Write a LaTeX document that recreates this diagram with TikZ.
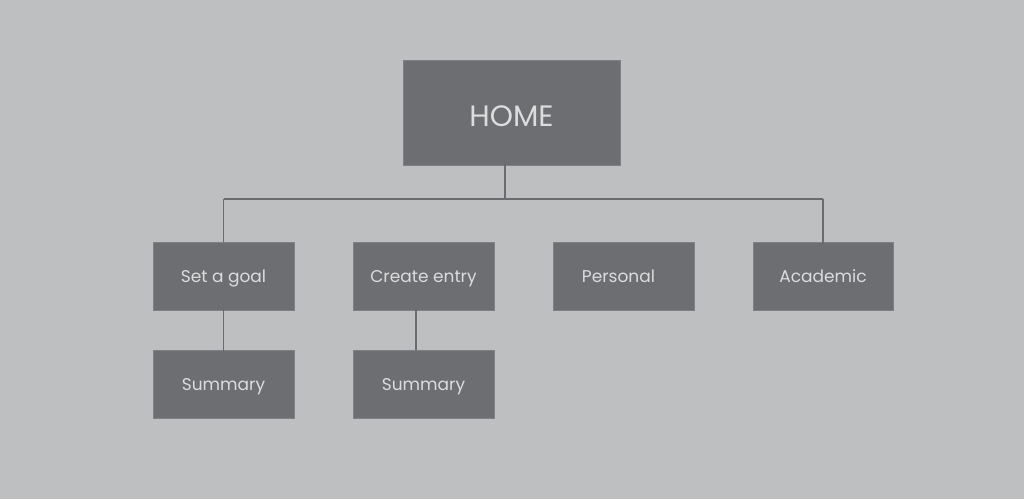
\documentclass[tikz,border=0pt]{standalone}
\usepackage{fontspec}
\setmainfont{Poppins}
\usetikzlibrary{calc}
\definecolor{bg}{HTML}{BEBFC1}
\definecolor{boxfill}{HTML}{6D6E72}
\definecolor{boxline}{HTML}{7F8084}
\definecolor{boxtext}{HTML}{DCDCDD}
\definecolor{conn}{HTML}{6A6B6F}
\newcommand{\boxlabel}[2][3pt]{\raisebox{-#1}{#2}}
\begin{document}
\begin{tikzpicture}[x=1pt,y=-1pt,
  pagebox/.style={fill=boxfill,draw=boxline,line width=1pt,inner sep=0pt,
    text=boxtext,minimum width=141pt,minimum height=68pt,
    text height=0.7em,text depth=0pt,font=\fontsize{17}{18}\selectfont},
  homebox/.style={pagebox,minimum width=217pt,minimum height=105pt,font=\fontsize{29.5}{32}\selectfont},
  link/.style={draw=conn,line width=1.3pt}]
\fill[bg] (0,0) rectangle (1024,499);
\useasboundingbox (0,0) rectangle (1024,499);
\node[homebox] (home) at (511.5,112.5) {\boxlabel[10pt]{HOME}};
\node[pagebox] (sg) at (223.5,276) {\boxlabel{Set a goal}};
\node[pagebox] (ce) at (423.5,276) {\boxlabel{Create entry}};
\node[pagebox] (pe) at (623.5,276) {\hspace*{-10pt}\boxlabel{Personal}};
\node[pagebox,minimum width=140pt] (ac) at (823,276) {\boxlabel{Academic}};
\node[pagebox] (s1) at (223.5,384) {\boxlabel{Summary}};
\node[pagebox] (s2) at (423.5,384) {\boxlabel{Summary}};
\coordinate (bus) at (505,199);
\coordinate (busL) at (223.5,199);
\coordinate (busR) at (823,199);
\draw[link] ($(home.south)+(-6.5,-5)$) -- (bus);
\draw[link] (busL) -- (busR);
\draw[link] (busL) -- (sg.north);
\draw[link] ($(ce.north)+(-7.5,0)$ |- bus) -- ($(ce.north)+(-7.5,0)$);
\draw[link] ($(pe.north)+(5.5,0)$ |- bus) -- ($(pe.north)+(5.5,0)$);
\draw[link] (busR) -- ($(ac.north)+(0,3)$);
\draw[link] ($(sg.south)+(0,-10)$) -- ($(s1.north)+(0,4)$);
\draw[link] ($(ce.south)+(-7.5,-4)$) -- ($(s2.north)+(-7.5,0)$);
\end{tikzpicture}
\end{document}
